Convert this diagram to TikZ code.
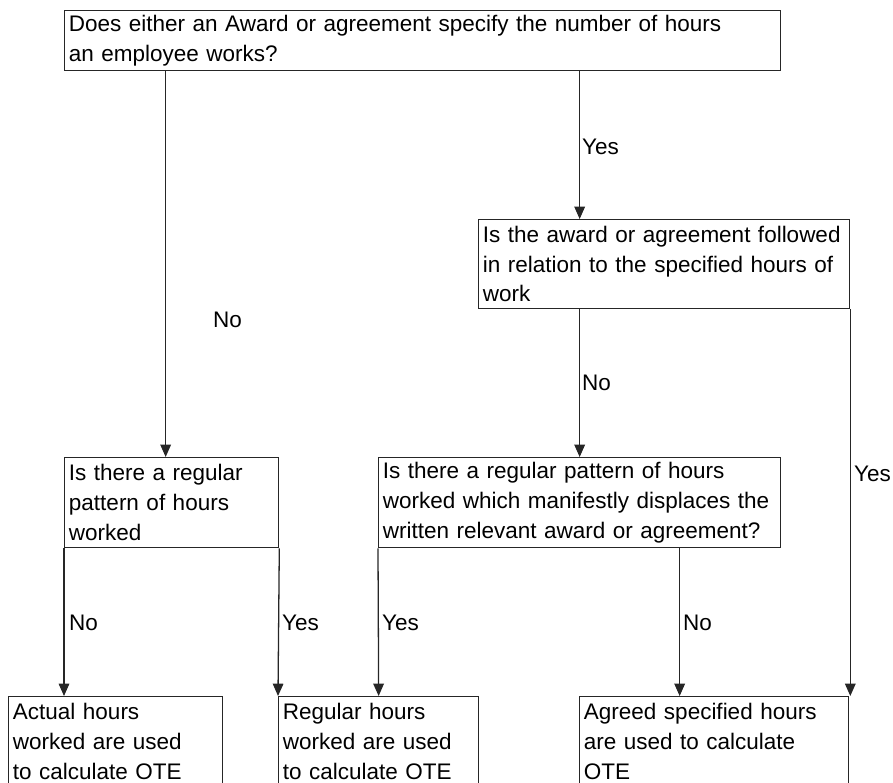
\documentclass[tikz,border=0pt]{standalone}
\usepackage{fontspec}
\setmainfont{Liberation Sans}
\usetikzlibrary{arrows.meta}

\begin{document}
\begin{tikzpicture}[x=0.03cm, y=-0.03cm,
        every node/.style={font=\fontsize{19.2}{25.4}\selectfont},
        b/.style={draw=black!85, line width=1.1pt, anchor=north west, align=left, inner xsep=0.13cm, inner ysep=0pt},
        t/.style={anchor=west, inner sep=0pt},
        e/.style={-{Triangle[width=9pt, length=10.5pt]}, line width=1.1pt, black!85}]
        \clip (0,0) rectangle (893,783);

        % questions
        \node[b, text width=21.22cm, minimum height=1.8cm] (q1) at (64,10) {Does either an Award or agreement specify the number of hours\\an employee works?};
        \node[b, text width=10.87cm, minimum height=2.67cm] (q2) at (478,219) {Is the award or agreement followed\\in relation to the specified hours of\\work};
        \node[b, text width=6.16cm, minimum height=2.7cm] (q3) at (64,457) {Is there a regular\\pattern of hours\\worked};
        \node[b, text width=11.8cm, minimum height=2.7cm] (q4) at (378,457) {Is there a regular pattern of hours\\worked which manifestly displaces the\\written relevant award or agreement?};

        % answers
        \node[b, text width=6.16cm, minimum height=2.7cm] (aA) at (8,696) {Actual hours\\worked are used\\to calculate OTE};
        \node[b, text width=5.74cm, minimum height=2.7cm] (aR) at (278,696) {Regular hours\\worked are used\\to calculate OTE};
        \node[b, text width=7.81cm, minimum height=2.7cm] (aG) at (579,696) {Agreed specified hours\\are used to calculate\\OTE};

        \path ([xshift=-0.18cm]q3.north) coordinate (t3);
        \path ([xshift=3cm]q4.south) coordinate (b4);

        \draw[e] (q1.south -| t3) -- (t3);
        \draw[e] (q1.south -| q4.north) -- (q2.north -| q4.north);
        \draw[e] (q2.south -| q4.north) -- (q4.north);
        \draw[e] (q2.south east) -- (q2.south east |- aG.north);
        \draw[e] (q3.south west) -- (q3.south west |- aA.north);
        \draw[e] (q3.south east) -- (aR.north west);
        \draw[e] (q4.south west) -- (aR.north);
        \draw[e] (b4) -- (b4 |- aG.north);

        % labels
        \node[t] (y1) at (582,147) {Yes};
        \node[t] (n1) at (213,320) {No};
        \node[t] (n2) at (582,383) {No};
        \node[t] (y2) at (854,474) {Yes};
        \node[t] (n3) at (69,623) {No};
        \node[t] (y3) at (282,623) {Yes};
        \node[t] (y4) at (382,623) {Yes};
        \node[t] (n4) at (683,623) {No};
      \end{tikzpicture}
\end{document}
